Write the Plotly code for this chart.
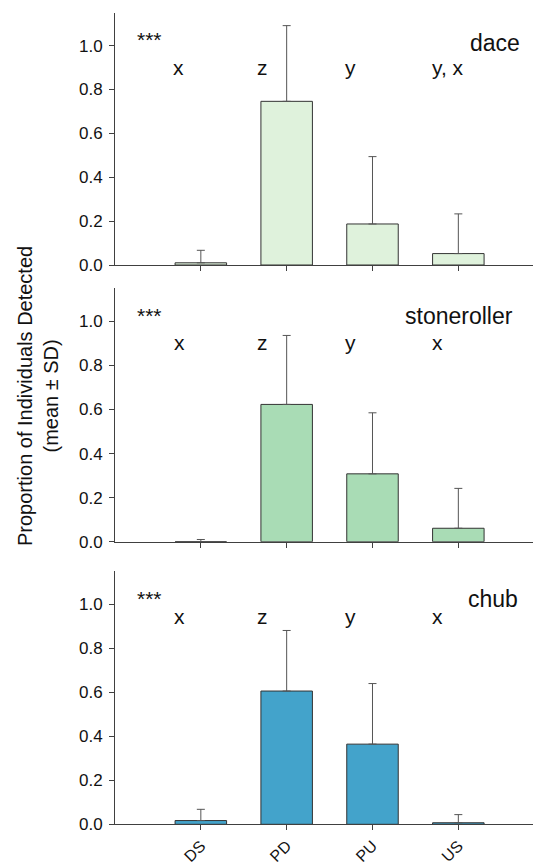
import plotly.graph_objects as go

# ---- data ----
sites = ["DS", "PD", "PU", "US"]
species = ["dace", "stoneroller", "chub"]
dace_mean = [0.01, 0.746, 0.187, 0.052]
dace_sd = [0.057, 0.345, 0.307, 0.181]
stoneroller_mean = [0.0, 0.623, 0.308, 0.061]
stoneroller_sd = [0.01, 0.313, 0.277, 0.181]
chub_mean = [0.017, 0.605, 0.364, 0.007]
chub_sd = [0.051, 0.275, 0.275, 0.037]
dace_letters = ["x", "z", "y", "y, x"]
stoneroller_letters = ["x", "z", "y", "x"]
chub_letters = ["x", "z", "y", "x"]
colors = ["#dff2dc", "#a9dcb5", "#43a3cb"]
y_ticks = [0.0, 0.2, 0.4, 0.6, 0.8, 1.0]

means = [dace_mean, stoneroller_mean, chub_mean]
sds = [dace_sd, stoneroller_sd, chub_sd]
letters = [dace_letters, stoneroller_letters, chub_letters]

W, H = 535, 866
xpos = list(range(len(sites)))
FONT = "Liberation Sans"

# layout geometry (pixels)
x_left, x_right = 115, 533
panels_px = [(12.7, 265.0), (288.3, 541.7), (571.0, 824.3)]
letter_x = [[-0.26, 0.72, 1.74, 2.88], [-0.25, 0.72, 1.74, 2.76], [-0.25, 0.72, 1.74, 2.76]]
letter_y = [0.898, 0.905, 0.944]
label_x = [3.74, 3.66, 3.72]
label_y = [1.012, 1.023, 1.023]

fig = go.Figure()
annotations = []
layout = {}
for i in range(3):
    xa = "x" if i == 0 else f"x{i+1}"
    ya = "y" if i == 0 else f"y{i+1}"
    fig.add_trace(go.Bar(
        x=xpos, y=means[i], width=0.6,
        marker=dict(color=colors[i], line=dict(color="#333333", width=1)),
        error_y=dict(type="data", symmetric=False, array=sds[i],
                     arrayminus=[0] * len(sds[i]), color="#555555",
                     thickness=1, width=4),
        xaxis=xa, yaxis=ya, showlegend=False, hoverinfo="skip",
    ))
    top, bot = panels_px[i]
    xk = "xaxis" if i == 0 else f"xaxis{i+1}"
    yk = "yaxis" if i == 0 else f"yaxis{i+1}"
    layout[xk] = dict(
        domain=[x_left / W, x_right / W], range=[-1.0, 3.87],
        anchor=ya, showline=True, linecolor="#404040", linewidth=1,
        ticks="outside", ticklen=5, tickcolor="#404040",
        tickvals=xpos, ticktext=sites if i == 2 else [""] * 4,
        showticklabels=(i == 2), tickangle=-45,
        tickfont=dict(size=16, color="#111111", family=FONT),
        ticklabelstandoff=0,
        showgrid=False, zeroline=False, fixedrange=True, automargin=False,
    )
    layout[yk] = dict(
        domain=[1 - bot / H, 1 - top / H], range=[0, 1.15],
        anchor=xa, showline=True, linecolor="#404040", linewidth=1,
        ticks="outside", ticklen=5, tickcolor="#404040",
        tickvals=y_ticks, ticktext=[f"{v:.1f}" for v in y_ticks],
        tickfont=dict(size=17, color="#111111", family=FONT),
        ticklabelstandoff=3,
        showgrid=False, zeroline=False, fixedrange=True, automargin=False,
    )
    # significance stars
    annotations.append(dict(
        text="***", x=-0.6, y=1.027, xref=xa, yref=ya, showarrow=False,
        font=dict(size=21, color="#111111", family=FONT),
        xanchor="center", yanchor="middle"))
    # group letters
    for j, lt in enumerate(letters[i]):
        annotations.append(dict(
            text=lt, x=letter_x[i][j], y=letter_y[i], xref=xa, yref=ya,
            showarrow=False, xanchor="center", yanchor="middle",
            font=dict(size=21, color="#111111", family=FONT)))
    # species label
    annotations.append(dict(
        text=species[i], x=label_x[i], y=label_y[i], xref=xa, yref=ya,
        showarrow=False, xanchor="right", yanchor="middle",
        font=dict(size=23, color="#111111", family=FONT)))

annotations.append(dict(
    text="Proportion of Individuals Detected<br>(mean ± SD)",
    x=38 / W, y=1 - 396 / H, xref="paper", yref="paper", showarrow=False,
    textangle=-90, xanchor="center", yanchor="middle",
    font=dict(size=20, color="#111111", family=FONT)))

fig.update_layout(
    width=W, height=H, margin=dict(l=0, r=0, t=0, b=0),
    paper_bgcolor="white", plot_bgcolor="white",
    annotations=annotations, bargap=0.4, **layout,
)
fig.write_html("out.html", config={"displayModeBar": False},
               post_script="document.body.style.margin='0';document.body.style.overflow='hidden';")
